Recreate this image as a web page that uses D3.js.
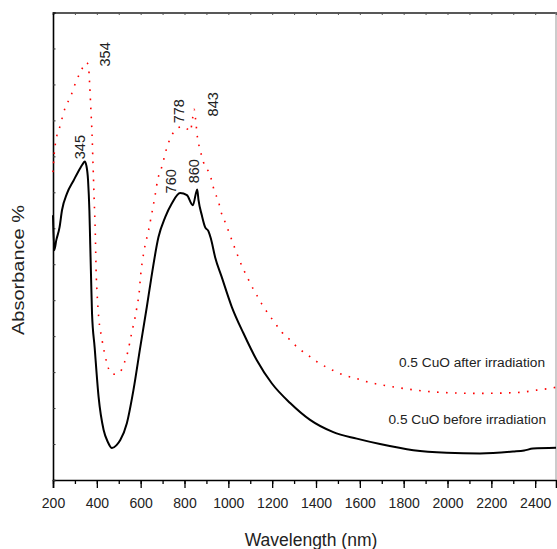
<!DOCTYPE html>
<html>
<head>
<meta charset="UTF-8">
<title>CuO absorbance</title>
<script src="https://d3js.org/d3.v7.min.js"></script>
<style>
body { margin: 0; background: #fff; }
text { font-family: Arial, "Liberation Sans", sans-serif; fill: #222; }
</style>
</head>
<body>
<script>
// before irradiation (solid black)
var wlBefore = [200, 206, 215, 230, 241, 264, 294, 324, 335, 345, 352, 360, 366, 370, 374, 378, 390, 408, 431, 450,
    469, 490, 507, 537, 567, 598, 628, 647, 681, 712, 742, 780, 811, 838, 858, 864, 879, 894, 909, 920,
    940, 970, 1016, 1069, 1130, 1198, 1282, 1373, 1479, 1586, 1692, 1844, 1996, 2148, 2299, 2350, 2390, 2495];
var absBefore = [0.736, 0.639, 0.667, 0.703, 0.75, 0.797, 0.833, 0.867, 0.878, 0.886, 0.875, 0.833, 0.75, 0.653, 0.556, 0.464, 0.369, 0.231, 0.139, 0.106,
    0.089, 0.097, 0.111, 0.158, 0.25, 0.369, 0.481, 0.556, 0.675, 0.731, 0.769, 0.798, 0.792, 0.764, 0.808, 0.778, 0.736, 0.703, 0.692, 0.672,
    0.619, 0.564, 0.481, 0.408, 0.333, 0.269, 0.214, 0.167, 0.133, 0.115, 0.1, 0.083, 0.076, 0.074, 0.079, 0.082, 0.0875, 0.09];

// after irradiation (red dotted)
var wlAfter = [200, 205, 210, 233, 256, 279, 302, 324, 345, 354, 362, 367, 373, 378, 382, 388, 393, 397, 400, 405,
    412, 420, 428, 435, 446, 464, 483, 502, 525, 540, 557, 567, 575, 583, 595, 598, 616, 636, 651, 666,
    677, 697, 716, 735, 757, 791, 815, 826, 834, 844, 850, 859, 868, 879, 891, 914, 938, 955, 966, 982,
    998, 1013, 1030, 1046, 1064, 1084, 1104, 1127, 1153, 1180, 1210, 1244, 1282, 1318, 1358, 1394, 1431, 1467, 1505, 1541,
    1580, 1616, 1654, 1730, 1806, 1882, 1958, 2034, 2110, 2185, 2262, 2338, 2406, 2479, 2495];
var absAfter = [0.856, 0.903, 0.931, 0.986, 1.036, 1.064, 1.103, 1.133, 1.156, 1.161, 1.15, 1.103, 1.028, 0.964, 0.889, 0.778, 0.686, 0.575, 0.533, 0.481,
    0.431, 0.403, 0.375, 0.353, 0.325, 0.297, 0.294, 0.297, 0.325, 0.353, 0.403, 0.431, 0.453, 0.481, 0.533, 0.556, 0.639, 0.694, 0.742, 0.792,
    0.833, 0.872, 0.917, 0.95, 0.972, 0.983, 0.975, 0.969, 0.992, 1.031, 1.006, 0.953, 0.925, 0.9, 0.875, 0.853, 0.8, 0.775, 0.747, 0.722,
    0.697, 0.672, 0.644, 0.619, 0.592, 0.567, 0.542, 0.517, 0.489, 0.464, 0.439, 0.411, 0.389, 0.367, 0.35, 0.333, 0.319, 0.308, 0.297, 0.289,
    0.283, 0.276, 0.27, 0.261, 0.254, 0.248, 0.244, 0.242, 0.241, 0.241, 0.242, 0.244, 0.25, 0.256, 0.258];

// peak annotations: text, anchor wavelength, anchor value
var peakText = ["354", "778", "843", "345", "760", "860"];
var peakWl = [461, 798, 953, 347, 762, 867];
var peakVal = [1.15, 0.992, 1.011, 0.892, 0.797, 0.825];

var seriesNames = ["0.5 CuO after irradiation", "0.5 CuO before irradiation"];
var xTickLabels = [200, 400, 600, 800, 1000, 1200, 1400, 1600, 1800, 2000, 2200, 2400];

var W = 557, H = 549;
var plotL = 53, plotR = 556, plotT = 12.5, plotB = 480;

var svg = d3.select("body").append("svg")
    .attr("width", W)
    .attr("height", H);

var x = d3.scaleLinear().domain([200, 2495]).range([plotL, plotR]);
var y = d3.scaleLinear().domain([0, 1.3]).range([plotB, plotT]);

var minorX = d3.range(200, 2500, 100);
var yTicks = d3.range(0, 14).map(function(i){ return i / 10; });

// bottom axis: minor then major with labels
svg.append("g")
    .attr("transform", "translate(0," + plotB + ")")
    .call(d3.axisBottom(x).tickValues(minorX).tickSize(4).tickFormat(""))
    .call(function(g){ g.select(".domain").remove(); })
    .selectAll("line").attr("stroke", "#000").attr("stroke-width", 1.3);

var bx = svg.append("g")
    .attr("transform", "translate(0," + plotB + ")")
    .call(d3.axisBottom(x).tickValues(xTickLabels).tickSize(8).tickPadding(10).tickFormat(d3.format("d")));
bx.select(".domain").attr("stroke", "#000").attr("stroke-width", 1.6);
bx.selectAll(".tick line").attr("stroke", "#000").attr("stroke-width", 1.3);
bx.selectAll("text").style("font-size", "14px").attr("fill", "#222")
    .style("font-family", "Arial, 'Liberation Sans', sans-serif");

// top axis, ticks inward
var tx = svg.append("g")
    .attr("transform", "translate(0," + plotT + ")")
    .call(d3.axisTop(x).tickValues(minorX).tickSize(-2.5).tickFormat(""));
tx.select(".domain").attr("stroke", "#222").attr("stroke-width", 1.6);
tx.selectAll(".tick line").attr("stroke", "#555");

// left axis, ticks inward, no labels
var ly = svg.append("g")
    .attr("transform", "translate(" + plotL + ",0)")
    .call(d3.axisLeft(y).tickValues(yTicks).tickSize(-2.5).tickFormat(""));
ly.select(".domain").attr("stroke", "#000").attr("stroke-width", 1.6);
ly.selectAll(".tick line").attr("stroke", "#333");

// right frame
svg.append("line")
    .attr("x1", plotR).attr("x2", plotR)
    .attr("y1", plotT).attr("y2", plotB)
    .attr("stroke", "#999").attr("stroke-width", 1);

// curves
var line = d3.line()
    .x(function(d){ return x(d[0]); })
    .y(function(d){ return y(d[1]); })
    .curve(d3.curveMonotoneX);

var after = d3.zip(wlAfter, absAfter);
var before = d3.zip(wlBefore, absBefore);

svg.append("path")
    .datum(after)
    .attr("d", line)
    .attr("fill", "none")
    .attr("stroke", "#ff0000")
    .attr("stroke-width", 1.6)
    .attr("stroke-dasharray", "1.6,7.4");

svg.append("path")
    .datum(before)
    .attr("d", line)
    .attr("fill", "none")
    .attr("stroke", "#000")
    .attr("stroke-width", 2)
    .attr("stroke-linejoin", "round");

// peak labels (rotated)
svg.selectAll(".peak")
    .data(peakText)
    .enter()
    .append("text")
    .attr("class", "peak")
    .attr("transform", function(d, i){
        return "translate(" + x(peakWl[i]) + "," + y(peakVal[i]) + ") rotate(-90)";
    })
    .style("font-size", "14.5px")
    .text(function(d){ return d; });

// series labels
svg.append("text")
    .attr("x", 545).attr("y", 366.5)
    .attr("text-anchor", "end")
    .style("font-size", "13.7px")
    .text(seriesNames[0]);
svg.append("text")
    .attr("x", 546).attr("y", 424)
    .attr("text-anchor", "end")
    .style("font-size", "13.7px")
    .text(seriesNames[1]);

// axis titles
svg.append("text")
    .attr("x", 311).attr("y", 546)
    .attr("text-anchor", "middle")
    .style("font-size", "17.5px")
    .text("Wavelength (nm)");

svg.append("text")
    .attr("transform", "translate(24,270) rotate(-90)")
    .attr("text-anchor", "middle")
    .attr("textLength", 130)
    .attr("lengthAdjust", "spacingAndGlyphs")
    .style("font-size", "16px")
    .text("Absorbance %");
</script>
</body>
</html>
